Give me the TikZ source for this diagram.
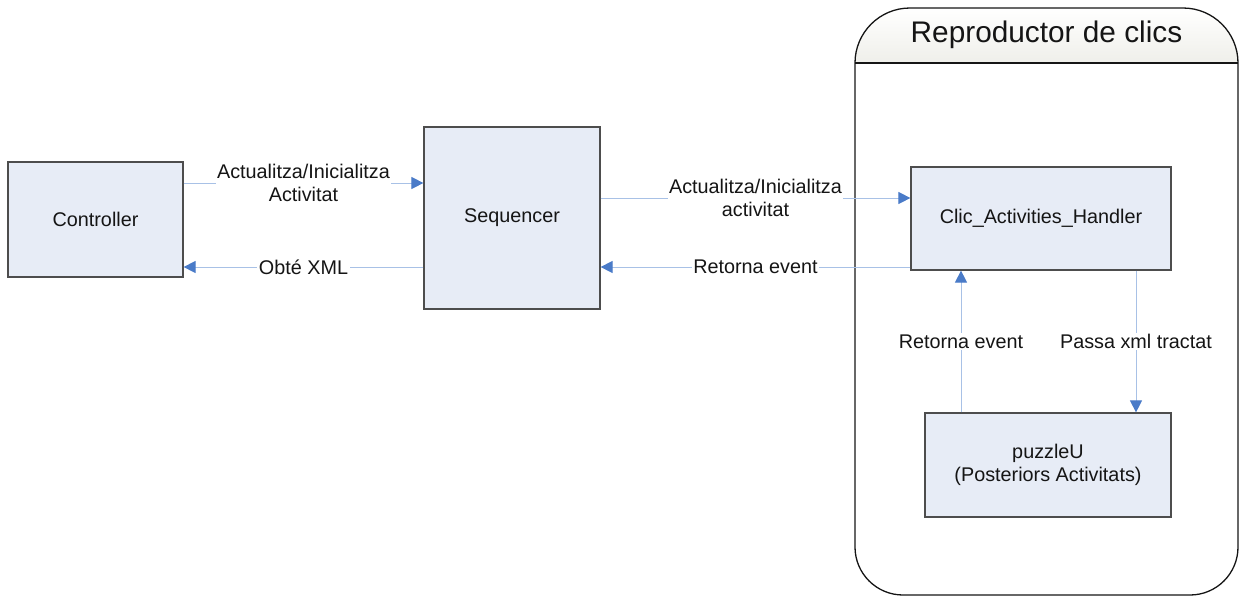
\documentclass[tikz,border=0pt]{standalone}
\usepackage{fontspec}
\setmainfont{Liberation Sans}
\usetikzlibrary{arrows.meta,calc}
\definecolor{boxfill}{HTML}{E7ECF6}
\definecolor{boxline}{HTML}{4D4D4D}
\definecolor{wire}{HTML}{A8C1E6}
\definecolor{tipblue}{HTML}{4A7BC8}
\definecolor{ink}{HTML}{151515}
\definecolor{titlegray}{HTML}{EFEFEA}
\begin{document}
\begin{tikzpicture}[x=1pt,y=-1pt,
  box/.style={draw=boxline, line width=1.2pt, fill=boxfill, text=ink,
    font=\fontsize{19.8}{22.5}\selectfont, align=center, inner sep=0pt},
  conn/.style={draw=wire, line width=1pt,
    -{Triangle[length=12pt,width=12pt,color=tipblue]}},
  lbl/.style={fill=white, text=ink, font=\fontsize{19.8}{22.5}\selectfont,
    align=center, inner sep=1.5pt},
  frame/.style={draw=ink, line width=1.3pt}]
  \useasboundingbox (0,0) rectangle (1240,597);

  % container "Reproductor de clics"
  \shade[top color=white, bottom color=titlegray, rounded corners=55pt]
    (855,63) -- (855,8) -- (1238,8) -- (1238,63);
  \draw[frame, rounded corners=55pt] (855,63) -- (855,8) -- (1238,8) -- (1238,63);
  \draw[frame, rounded corners=48pt] (1238,63) -- (1238,595) -- (855,595) -- (855,63);
  \draw[frame] (855,63) -- (1238,63);
  \node[text=ink, font=\fontsize{29.8}{34}\selectfont] (title) at (1046.5,35) {Reproductor de clics};

  % components
  \node[box, minimum width=175pt, minimum height=115pt] (ctrl) at (95.5,219.5) {Controller};
  \node[box, minimum width=176pt, minimum height=182pt] (seq) at (512,218) {Sequencer};
  \node[box, minimum width=260pt, minimum height=103pt] (hand) at (1041,218.5) {Clic\_Activities\_Handler};
  \node[box, minimum width=246pt, minimum height=104pt] (puz) at (1048,465) {puzzleU\\(Posteriors Activitats)};

  % messages
  \draw[conn] (ctrl.east |- 0,183) -- node[lbl]{Actualitza/Inicialitza\\Activitat} (seq.west |- 0,183);
  \draw[conn] (seq.west |- 0,267) -- node[lbl]{Obté XML} (ctrl.east |- 0,267);
  \draw[conn] (seq.east |- 0,198) -- node[lbl]{Actualitza/Inicialitza\\activitat} (hand.west |- 0,198);
  \draw[conn] (hand.west |- 0,267) -- node[lbl]{Retorna event} (seq.east |- 0,267);
  \draw[conn] (puz.north -| 961,0) -- node[lbl]{Retorna event} (hand.south -| 961,0);
  \draw[conn] (hand.south -| 1136,0) -- node[lbl]{Passa xml tractat} (puz.north -| 1136,0);
\end{tikzpicture}
\end{document}
